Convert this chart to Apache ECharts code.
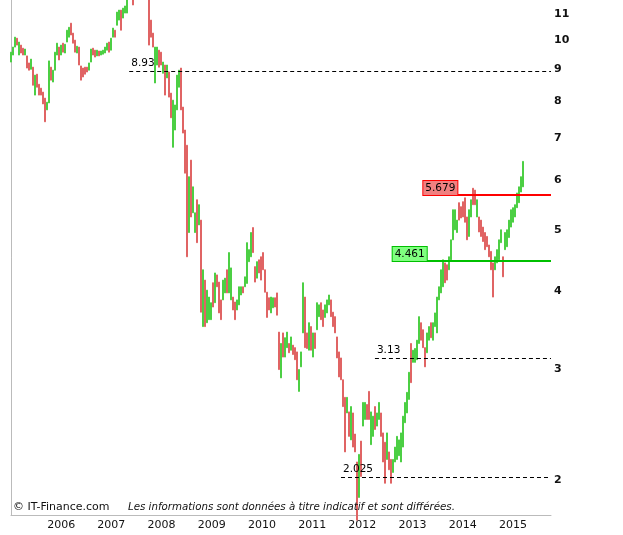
<!DOCTYPE html>
<html><head><meta charset="utf-8">
<script src="https://cdn.jsdelivr.net/npm/echarts@6/dist/echarts.min.js"></script>
<style>html,body{margin:0;padding:0;background:#fff}#c{width:623px;height:535px}</style>
</head><body><div id="c"></div>
<script>
// ---- data (bi-weekly bars) ----
const startDate = '2005-01-01';
const stepDays = 14.55;
const axisStart = '2005-01-01';
const axisEnd = '2015-10-05';
const highs = [
9.57,9.75,10.11,10.07,9.93,9.82,9.71,9.68,9.44,9.20,
9.33,9.06,8.80,8.83,8.51,8.39,8.27,8.09,7.97,9.27,
9.06,8.96,9.57,9.89,9.75,9.82,9.89,9.85,10.37,10.48,
10.64,10.26,10.00,9.78,9.75,9.10,9.03,9.06,9.06,9.20,
9.68,9.71,9.64,9.64,9.61,9.61,9.64,9.75,9.89,9.93,
10.07,10.45,10.37,11.08,11.16,11.16,11.24,11.33,11.80,12.24,
12.46,12.02,12.93,13.17,13.41,13.17,12.93,12.69,12.46,11.80,
10.76,10.26,9.75,9.75,9.64,9.57,9.23,9.13,9.13,8.90,
8.24,8.03,7.89,8.80,8.96,9.03,7.83,7.20,6.81,6.07,
6.45,5.85,5.32,5.58,5.48,5.18,4.32,4.16,4.01,3.91,
3.83,4.12,4.27,4.24,4.13,3.87,4.16,4.19,4.32,4.60,
4.35,3.91,3.84,3.87,4.06,4.06,4.06,4.21,4.77,4.65,
4.95,5.04,4.37,4.45,4.48,4.53,4.60,4.32,3.98,3.90,
3.91,3.90,3.90,3.97,3.44,3.30,3.43,3.37,3.44,3.30,
3.38,3.28,3.25,3.20,3.00,3.20,4.12,3.91,3.43,3.56,
3.51,3.43,3.43,3.83,3.80,3.83,3.73,3.80,3.87,3.94,
3.87,3.70,3.64,3.38,3.20,3.13,2.89,2.71,2.71,2.57,
2.62,2.56,2.37,2.14,2.20,2.31,2.66,2.66,2.64,2.77,
2.57,2.53,2.62,2.56,2.66,2.56,2.38,2.30,2.38,2.22,
2.16,2.16,2.26,2.35,2.32,2.38,2.53,2.66,2.76,2.97,
3.30,3.22,3.24,3.34,3.64,3.56,3.47,3.25,3.43,3.51,
3.56,3.56,3.69,3.91,4.06,4.32,4.48,4.43,4.40,4.53,
4.82,5.38,5.38,5.18,5.52,5.44,5.54,5.62,5.24,5.38,
5.58,5.82,5.78,5.58,5.24,5.18,5.05,4.95,4.88,4.73,
4.62,4.43,4.53,4.65,4.82,5.00,4.53,4.95,5.00,5.18,
5.38,5.42,5.48,5.72,5.85,6.07,6.42];
const lows = [
9.23,9.47,9.75,9.82,9.47,9.54,9.47,9.47,9.03,8.96,
8.99,8.48,8.18,8.42,8.18,8.18,7.92,7.42,7.75,7.95,
8.64,8.58,8.96,9.47,9.30,9.47,9.57,9.54,9.93,10.11,
10.19,9.89,9.57,9.54,9.13,8.64,8.74,8.83,8.90,8.96,
9.23,9.47,9.40,9.44,9.44,9.47,9.50,9.54,9.64,9.57,
9.64,10.11,10.11,10.56,10.76,10.37,10.84,11.04,11.04,11.67,
11.80,11.37,12.02,12.24,12.24,12.02,11.80,11.80,11.67,9.82,
10.11,9.75,8.55,9.13,9.06,9.13,8.86,8.18,8.71,8.12,
7.53,6.76,7.20,7.75,8.42,7.75,7.12,6.15,4.53,4.95,
5.24,5.32,4.95,4.77,5.09,3.70,3.51,3.51,3.56,3.60,
3.60,3.77,3.83,4.06,3.69,3.60,3.87,3.97,3.97,3.97,
3.87,3.73,3.60,3.73,3.80,3.94,3.97,4.06,4.11,4.45,
4.53,4.60,4.13,4.19,4.27,4.16,4.32,3.98,3.63,3.73,
3.69,3.76,3.77,3.66,3.00,2.91,3.14,3.14,3.25,3.19,
3.22,3.17,3.11,2.89,2.77,3.03,3.43,3.25,3.24,3.22,
3.22,3.14,3.24,3.47,3.64,3.60,3.51,3.63,3.69,3.80,
3.64,3.51,3.43,3.13,2.92,2.89,2.62,2.22,2.56,2.35,
2.32,2.26,2.22,1.73,1.88,2.03,2.44,2.50,2.50,2.50,
2.28,2.35,2.41,2.44,2.50,2.35,2.14,1.98,2.16,2.08,
1.98,2.06,2.14,2.16,2.19,2.14,2.26,2.47,2.56,2.69,
2.86,3.08,3.08,3.11,3.30,3.34,3.25,3.03,3.19,3.34,
3.37,3.34,3.51,3.43,3.87,3.97,4.06,4.12,4.16,4.32,
4.48,4.82,5.00,4.95,5.18,5.22,5.24,5.14,4.82,4.88,
5.24,5.48,5.48,5.24,4.96,4.88,4.79,4.65,4.70,4.53,
4.32,3.91,4.32,4.43,4.48,4.77,4.21,4.65,4.70,4.86,
5.05,5.14,5.24,5.42,5.52,5.74,5.85];
const directions =
'GGGRGRRGRR'+'GRGRRRRRGG'+'RGGGRGRGGG'+'RRRGRRRRRG'+'GRRGRGGGGR'+
'GGRGGRGGGG'+'GRGGRRRRRR'+'RRGGRRGRGR'+'RGGGGRRRRG'+'RGGRGRGRGG'+
'GRGRRRGGRG'+'GRRGGGRGGG'+'GRRGRRRRRR'+'GGRRRGRGGR'+'GRRRGGGRRG'+
'RGRGGRRGGG'+'RRRRRRRRGR'+'GRRRGRGGRR'+'GGRGGRRRGR'+'RGGGGGGGGG'+
'RGGGGRRRGG'+'RGGGGGGRRG'+'GGGGRRRRRG'+'GRRGRRRRRR'+'RRGGGGRGGG'+
'GGGGGGG';
const yearLabels = [2006,2007,2008,2009,2010,2011,2012,2013,2014,2015];
const priceLabels = [2,3,4,5,6,7,8,9,10,11];
const dashedLevels = [
  {value: 8.93, from: '2007-05-11'},
  {value: 3.13, from: '2012-04-02'},
  {value: 2.025, from: '2011-07-30'}
];
const resistance = {value: 5.679, from: '2013-03-20'};
const support = {value: 4.461, from: '2012-08-09'};
const lastPrice = 6.420;

// ---- build (x = days since axisStart) ----
const DAY = 86400000;
function dayOf(s){const p=s.split('-').map(Number);return Math.round((Date.UTC(p[0],p[1]-1,p[2]) - Date.UTC(2005,0,1))/DAY);}
const d0 = dayOf(startDate);
const candles = highs.map((h,i)=>{
  const l = lows[i];
  const x = d0 + i*stepDays;
  return directions[i]==='G' ? [x, l, h, l, h] : [x, h, l, l, h];
});
const xMin = dayOf(axisStart), xMax = dayOf(axisEnd);
const lastX = candles[candles.length-1][0];
const yearDays = yearLabels.map(y=>dayOf(y+'-01-01'));
const FONT = '"DejaVu Sans", Verdana, sans-serif';
const UP = '#4ccf44', DOWN = '#e06464';

const markData = [];
dashedLevels.forEach(d=>{
  markData.push([
    {coord:[dayOf(d.from), d.value], lineStyle:{color:'#000', width:1, type:[4,3]},
     label:{show:true, position:'insideStartTop', distance:[2,2.5], formatter:String(d.value),
            color:'#000', fontSize:10.5, fontFamily:FONT}},
    {coord:[xMax, d.value]}
  ]);
});
[[resistance,'#ff0000','#f08080'],[support,'#00c000','#80ff80']].forEach(([d,c,bg])=>{
  markData.push([
    {coord:[dayOf(d.from), d.value], lineStyle:{color:c, width:2, type:'solid'},
     label:{show:true, position:'insideStartTop', distance:[0,0], formatter:d.value.toFixed(3),
            color:'#000', fontSize:10.5, fontFamily:FONT, backgroundColor:bg,
            borderColor:c, borderWidth:1, padding:[2,2,1,2]}},
    {coord:[xMax, d.value]}
  ]);
});
markData.push([
  {coord:[lastX, lastPrice], lineStyle:{opacity:0, width:0},
   label:{show:true, position:'end', distance:1.5, formatter:lastPrice.toFixed(3),
          color:'#000', fontSize:10.5, fontFamily:FONT, backgroundColor:'#ffc000',
          borderColor:'#000', borderWidth:1, padding:[3,3,3,3]}},
  {coord:[xMax, lastPrice]}
]);

const yBase = {type:'log', logBase:10, min:1.763, max:11.58,
  splitLine:{show:false}, axisTick:{show:false}};

const chart = echarts.init(document.getElementById('c'), null, {renderer:'canvas'});
chart.setOption({
  animation:false,
  backgroundColor:'#fff',
  grid:{left:11, right:72, top:0, bottom:20, outerBoundsMode:'none', containLabel:false},
  xAxis:{type:'value', min:xMin, max:xMax, splitLine:{show:false},
    axisLine:{show:true, onZero:false, lineStyle:{color:'#bbb', width:1}}, axisTick:{show:false},
    axisLabel:{customValues: yearDays,
      formatter:v=>String(yearLabels[yearDays.indexOf(Math.round(v))] ?? ''), color:'#111', fontSize:11,
      fontFamily:FONT, margin:5, hideOverlap:false}},
  yAxis:[
    Object.assign({}, yBase, {position:'right',
      axisLine:{show:true, lineStyle:{color:'#bbb', width:1}},
      axisLabel:{customValues:priceLabels, formatter:v=>String(Math.round(v)), color:'#111',
        fontSize:11, fontWeight:'bold', fontFamily:FONT, margin:3, hideOverlap:false}}),
    Object.assign({}, yBase, {position:'left',
      axisLine:{show:true, lineStyle:{color:'#bbb', width:1}}, axisLabel:{show:false}})
  ],
  series:[
    {type:'candlestick', data:candles, barWidth:1.6, clip:true, yAxisIndex:0,
      itemStyle:{color:UP, color0:DOWN, borderColor:UP, borderColor0:DOWN, borderWidth:1, opacity:1}},
    {type:'line', data:[[lastX, lastPrice]], yAxisIndex:0, symbol:'none', clip:false,
      lineStyle:{opacity:0}, silent:true,
      markLine:{symbol:'none', silent:true, animation:false, data:markData}}
  ],
  graphic:[
    {type:'text', left:13, top:502, z:100, style:{text:'© IT-Finance.com', font:'11px '+FONT, fill:'#111'}},
    {type:'text', left:128, top:502, z:100, style:{text:'Les informations sont données à titre indicatif et sont différées.', font:'italic 10.25px '+FONT, fill:'#111'}}
  ]
});
</script></body></html>
